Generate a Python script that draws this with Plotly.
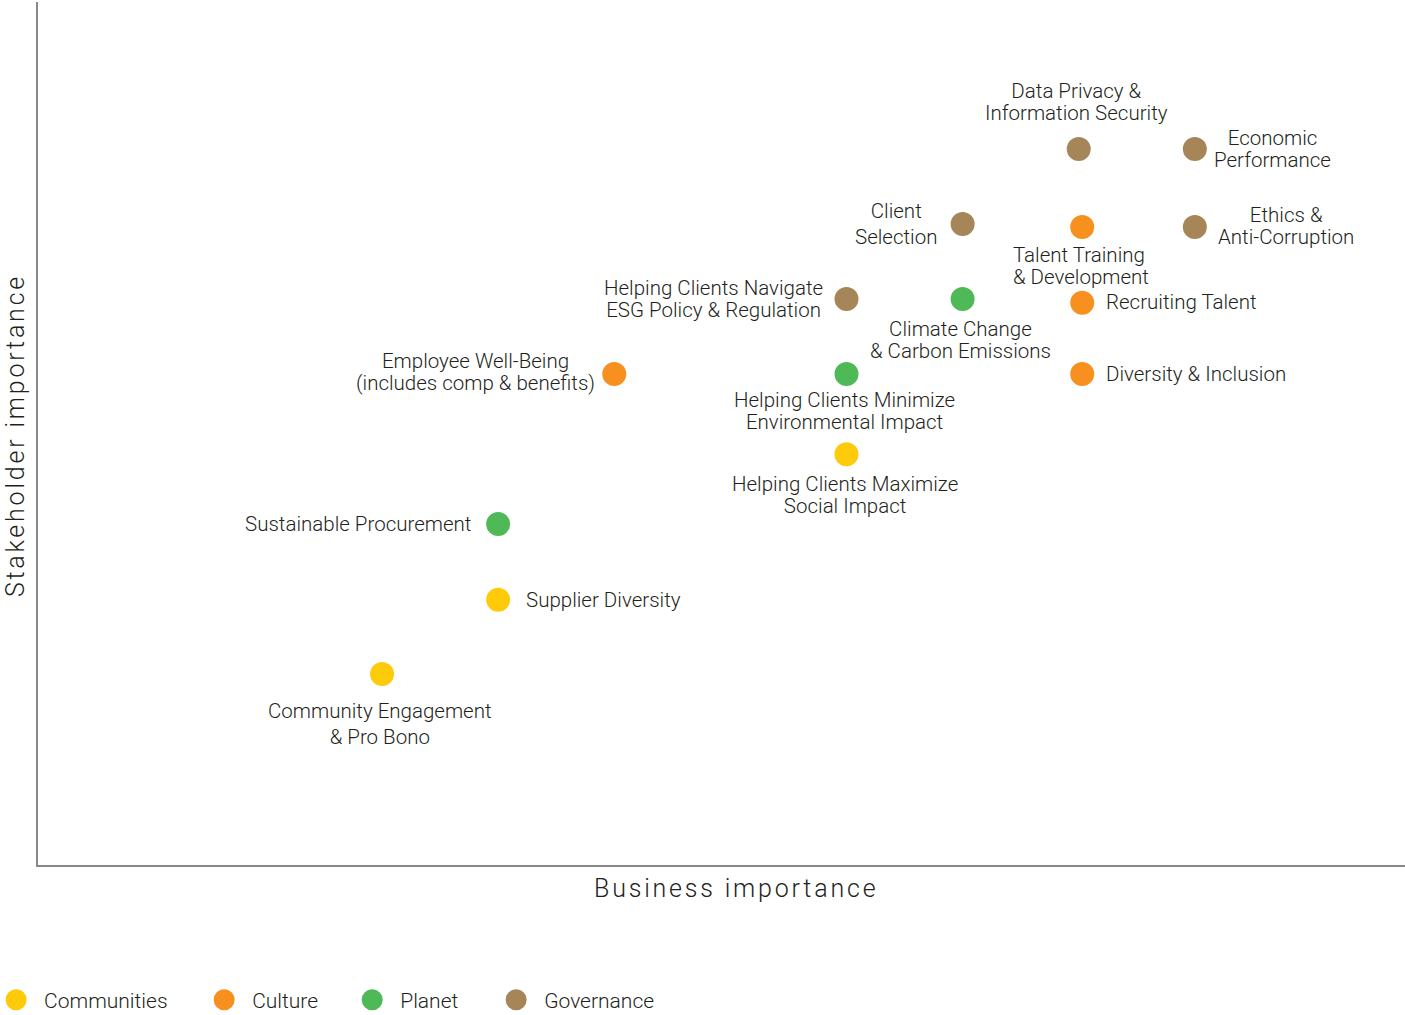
import plotly.graph_objects as go

# data
topics = [
    "Data Privacy &<br>Information Security",
    "Economic<br>Performance",
    "Client<br>Selection",
    "Talent Training<br>& Development",
    "Ethics &<br>Anti-Corruption",
    "Helping Clients Navigate<br>ESG Policy & Regulation",
    "Climate Change<br>& Carbon Emissions",
    "Recruiting Talent",
    "Employee Well-Being<br>(includes comp & benefits)",
    "Helping Clients Minimize<br>Environmental Impact",
    "Diversity & Inclusion",
    "Helping Clients Maximize<br>Social Impact",
    "Sustainable Procurement",
    "Supplier Diversity",
    "Community Engagement<br>& Pro Bono",
]
business = [9, 10, 8, 9.03, 10, 7, 8, 9.03, 5, 7, 9.03, 7, 4, 4, 3]
stakeholder = [9, 9, 8, 7.96, 7.96, 7, 7, 6.95, 6, 6, 6, 4.93, 4, 2.99, 2]
pillar = ["Governance", "Governance", "Governance", "Culture", "Governance",
          "Governance", "Planet", "Culture", "Culture", "Planet", "Culture",
          "Communities", "Planet", "Communities", "Communities"]

pillars = ["Communities", "Culture", "Planet", "Governance"]
colors = {"Communities": "#FDCB0A", "Culture": "#F7901E",
          "Planet": "#50B957", "Governance": "#A68558"}

# label placement: (xanchor, align, xshift, yshift, line box size)
placement = [
    ("center", "center", -2, 47, 17),
    ("left", "center", 17, 0, 17),
    ("right", "center", -23, 0, 20),
    ("center", "left", -1, -39, 17),
    ("left", "center", 21, 1, 17),
    ("right", "center", -22, 0, 17),
    ("center", "center", -2, -41, 17),
    ("left", "left", 22, 1, 17),
    ("right", "center", -17, 2, 17),
    ("center", "center", -2, -37, 17),
    ("left", "left", 22, 0, 17),
    ("center", "center", -2, -41, 17),
    ("right", "right", -25, 0, 17),
    ("left", "left", 26, 0, 17),
    ("center", "center", -2, -50, 20),
]

TXT = "#231F20"
FAM = "Roboto"

fig = go.Figure()
legend_ids = ["legend", "legend2", "legend3", "legend4"]
for p, lg in zip(pillars, legend_ids):
    idx = [i for i, v in enumerate(pillar) if v == p]
    fig.add_scatter(
        x=[business[i] for i in idx],
        y=[stakeholder[i] for i in idx],
        mode="markers",
        name=p,
        legend=lg,
        marker=dict(size=19, color=colors[p], line=dict(width=5, color=colors[p])),
        hoverinfo="skip",
    )

for i, t in enumerate(topics):
    xa, al, xs, ys, box = placement[i]
    lines = t.split("<br>")
    txt = "<br>".join('<span style="font-size:20.5px">%s</span>' % s for s in lines)
    fig.add_annotation(x=business[i], y=stakeholder[i], text=txt, showarrow=False,
                       xanchor=xa, yanchor="middle", align=al,
                       xshift=xs, yshift=ys,
                       font=dict(family=FAM, size=box, color=TXT, weight=300))

# axis titles
title_font = dict(family=FAM, size=25, color=TXT, weight=300)
fig.add_annotation(xref="paper", yref="paper", x=0.5106, y=-0.0278,
                   xanchor="center", yanchor="middle", showarrow=False,
                   text='<span style="letter-spacing:2.8px">Business importance</span>',
                   font=title_font)
fig.add_annotation(xref="paper", yref="paper", x=-0.0168, y=0.497,
                   xanchor="center", yanchor="middle", showarrow=False, textangle=-90,
                   text='<span style="letter-spacing:2.8px">Stakeholder importance</span>',
                   font=title_font)

legend_style = dict(orientation="h", yanchor="middle", y=-0.1565, xanchor="left",
                    itemsizing="trace", itemwidth=46, bgcolor="rgba(0,0,0,0)",
                    font=dict(family=FAM, size=21, color=TXT, weight=300))
legend_x = [-0.0365, 0.1157, 0.2240, 0.3293]

fig.update_layout(
    width=1405, height=1015,
    margin=dict(l=38, r=0, t=2, b=150, autoexpand=False),
    paper_bgcolor="white", plot_bgcolor="white",
    font=dict(family=FAM, color=TXT, weight=300),
    xaxis=dict(range=[0.037, 11.81], showgrid=False, zeroline=False,
               showticklabels=False, ticks="", showline=True,
               linecolor="#888888", linewidth=2),
    yaxis=dict(range=[-0.547, 10.96], showgrid=False, zeroline=False,
               showticklabels=False, ticks="", showline=True,
               linecolor="#888888", linewidth=2),
    showlegend=True,
)
for lg, lx in zip(legend_ids, legend_x):
    fig.update_layout({lg: dict(legend_style, x=lx)})

fig.write_html("out.html", config={"displayModeBar": False},
               post_script="document.body.style.margin='0';")
